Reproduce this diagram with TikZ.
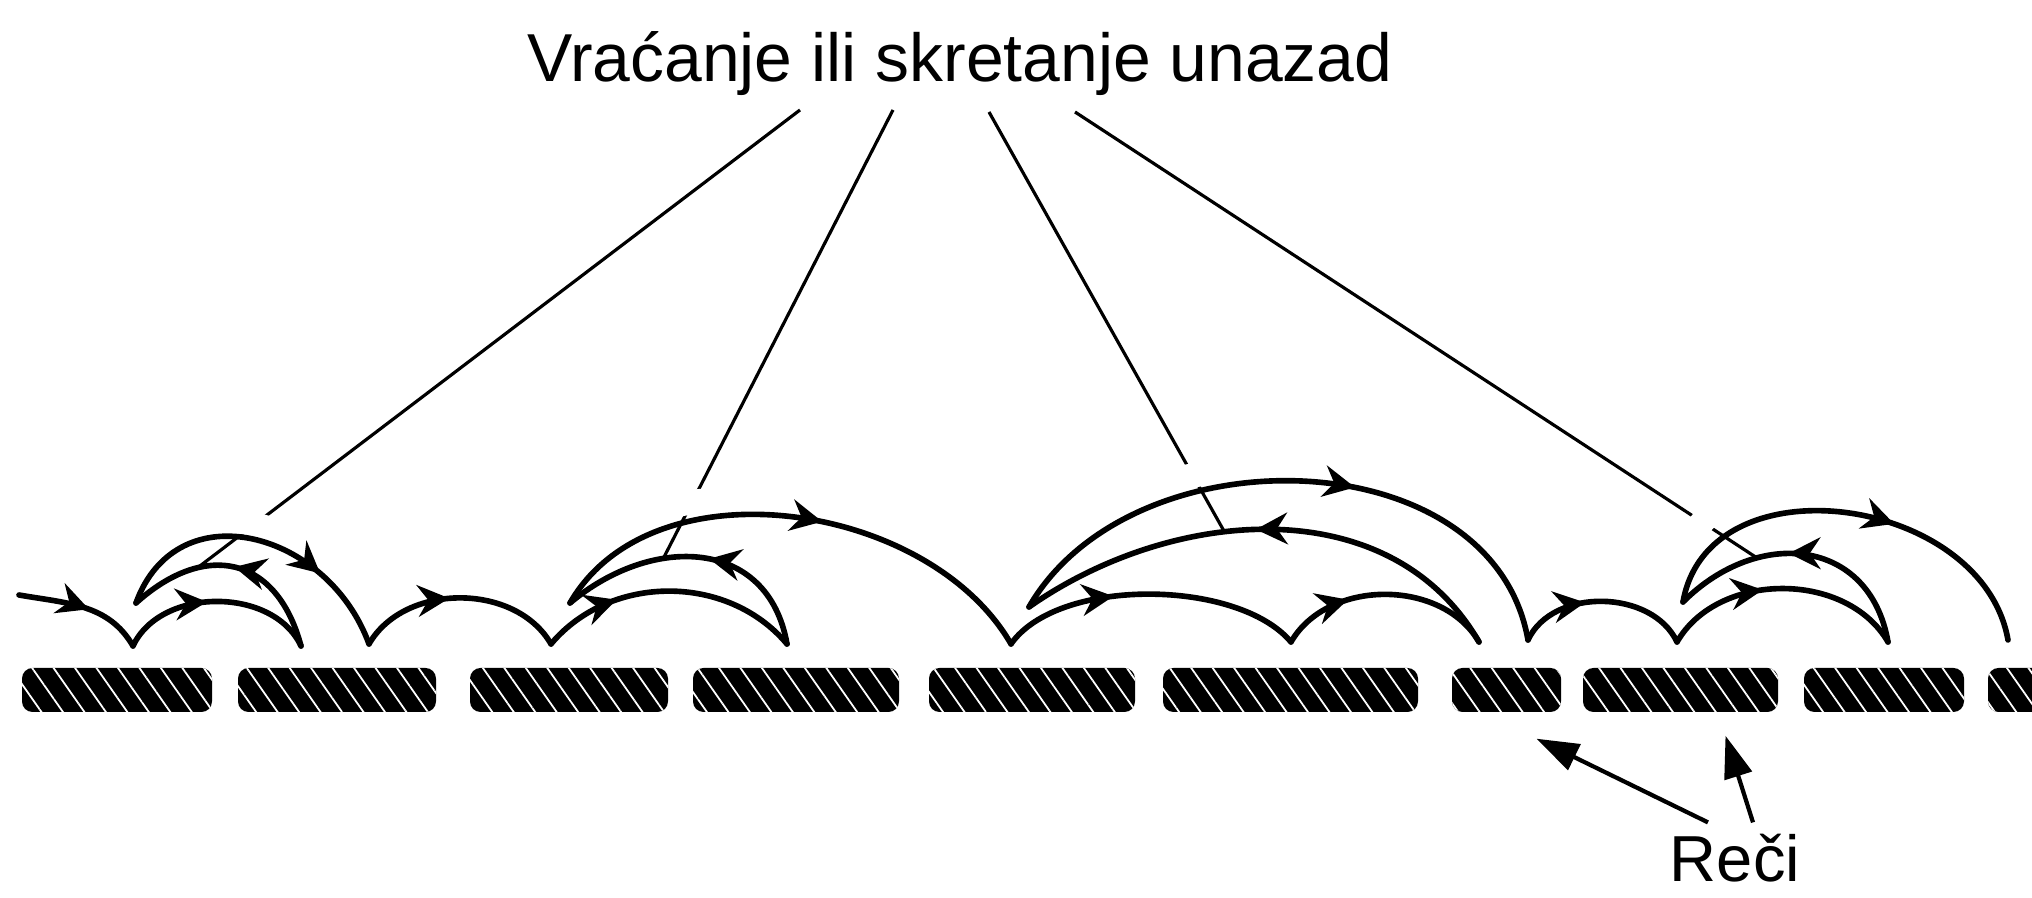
\documentclass[tikz,border=0pt]{standalone}
\usepackage{fontspec}
\setmainfont{Liberation Sans}
\usetikzlibrary{arrows.meta,decorations.markings,patterns.meta}

\tikzset{
  jump/.style={line width=1.6pt,line cap=round,line join=round},
  midarrow/.style={postaction={decorate},decoration={markings,mark=at position #1 with {\arrow{Stealth[length=9pt,width=9pt,inset=3pt]}}}},
  halo/.style={preaction={draw=white,line width=7pt,shorten <=18pt,shorten >=18pt}},
  pointer/.style={line width=0.9pt},
  word/.style={fill=black,rounded corners=3pt,inner sep=0pt,minimum height=0.44cm,
    postaction={pattern={Lines[angle=-55,distance=5pt,line width=0.5pt]},pattern color=white}},
  reciarrow/.style={line width=1.2pt,-{Triangle[length=12pt,width=8pt]}},
  label/.style={font=\fontsize{19.3}{23}\selectfont,anchor=base}
}

\begin{document}
\begin{tikzpicture}[x=0.01cm,y=0.01cm]
  \clip (0,0) rectangle (2032,898);

  % natpisi
  \node[label] (title) at (960,816) {Vraćanje ili skretanje unazad};
  \node[label,font=\fontsize{18.5}{22}\selectfont,inner sep=1pt] (reci) at (1735,16) {Reči};

  % reci u redu
  \foreach \n/\a/\b in {1/22/212,2/238/436,3/470/668,4/693/899,5/929/1135,6/1163/1418,7/1452/1561,8/1583/1778,9/1804/1964,10/1988/2090}
    \node[word,minimum width={(\b-\a)*0.01cm}] (w\n) at ({(\a+\b)/2},208) {};

  % tacke fiksacije
  \coordinate (s0) at (19,303);
  \coordinate (v1) at (133,252);
  \coordinate (e1) at (301,252);
  \coordinate (c1) at (136,295);
  \coordinate (v2) at (369,254);
  \coordinate (v3) at (551,254);
  \coordinate (e2) at (787,254);
  \coordinate (c2) at (570,295);
  \coordinate (v4) at (1011,254);
  \coordinate (v5) at (1291,256);
  \coordinate (e3) at (1479,256);
  \coordinate (c3) at (1029,291);
  \coordinate (v6) at (1528,258);
  \coordinate (v7) at (1677,256);
  \coordinate (e4) at (1888,256);
  \coordinate (c4) at (1683,296);
  \coordinate (v8) at (2008,258);

  % regresije
  \draw[jump,midarrow=0.5] (e1) to[out=105,in=42,looseness=1.4] coordinate[pos=0.7] (l1) (c1);
  \draw[jump,midarrow=0.45] (e2) to[out=100,in=40,looseness=1.25] coordinate[pos=0.65] (l2) (c2);
  \draw[jump,midarrow=0.52] (e3) to[out=120,in=35] coordinate[pos=0.6] (l3) (c3);
  \draw[jump,midarrow=0.55] (e4) to[out=100,in=45,looseness=1.3] coordinate[pos=0.7] (l4) (c4);

  % linije od naslova
  \coordinate (h1) at (800,788);
  \coordinate (h2) at (893,788);
  \coordinate (h3) at (989,786);
  \coordinate (h4) at (1075,786);
  \draw[pointer] (h1) -- (l1);
  \draw[pointer] (h2) -- (l2);
  \draw[pointer] (h3) -- (l3);
  \draw[pointer] (h4) -- (l4);

  % veliki skokovi
  \draw[jump,halo,midarrow=0.72] (c1) to[out=70,in=110,looseness=1.3] (v2);
  \draw[jump,halo,midarrow=0.55] (c2) to[out=60,in=120,looseness=0.95] (v4);
  \draw[jump,halo,midarrow=0.6] (c3) to[out=60,in=100,looseness=1.05] (v6);
  \draw[jump,halo,midarrow=0.6] (c4) to[out=80,in=100,looseness=1.15] (v8);

  % mali skokovi
  \draw[jump,midarrow=0.55] (s0) to[out=-10,in=120] (v1);
  \draw[jump,midarrow=0.45] (v1) to[out=65,in=115] (e1);
  \draw[jump,midarrow=0.45] (v2) to[out=60,in=120] (v3);
  \draw[jump,midarrow=0.3] (v3) to[out=50,in=130] (e2);
  \draw[jump,midarrow=0.38] (v4) to[out=55,in=130,looseness=0.75] (v5);
  \draw[jump,midarrow=0.33] (v5) to[out=60,in=120] (e3);
  \draw[jump,midarrow=0.4] (v6) to[out=65,in=115] (v7);
  \draw[jump,midarrow=0.42] (v7) to[out=60,in=120] (e4);

  % strelice ka recima
  \draw[reciarrow] ([shift={(-27,8)}]reci.north) -- ([shift={(30,-26)}]w7.south);
  \draw[reciarrow] ([shift={(18,8)}]reci.north) -- ([shift={(45,-23)}]w8.south);
\end{tikzpicture}
\end{document}
